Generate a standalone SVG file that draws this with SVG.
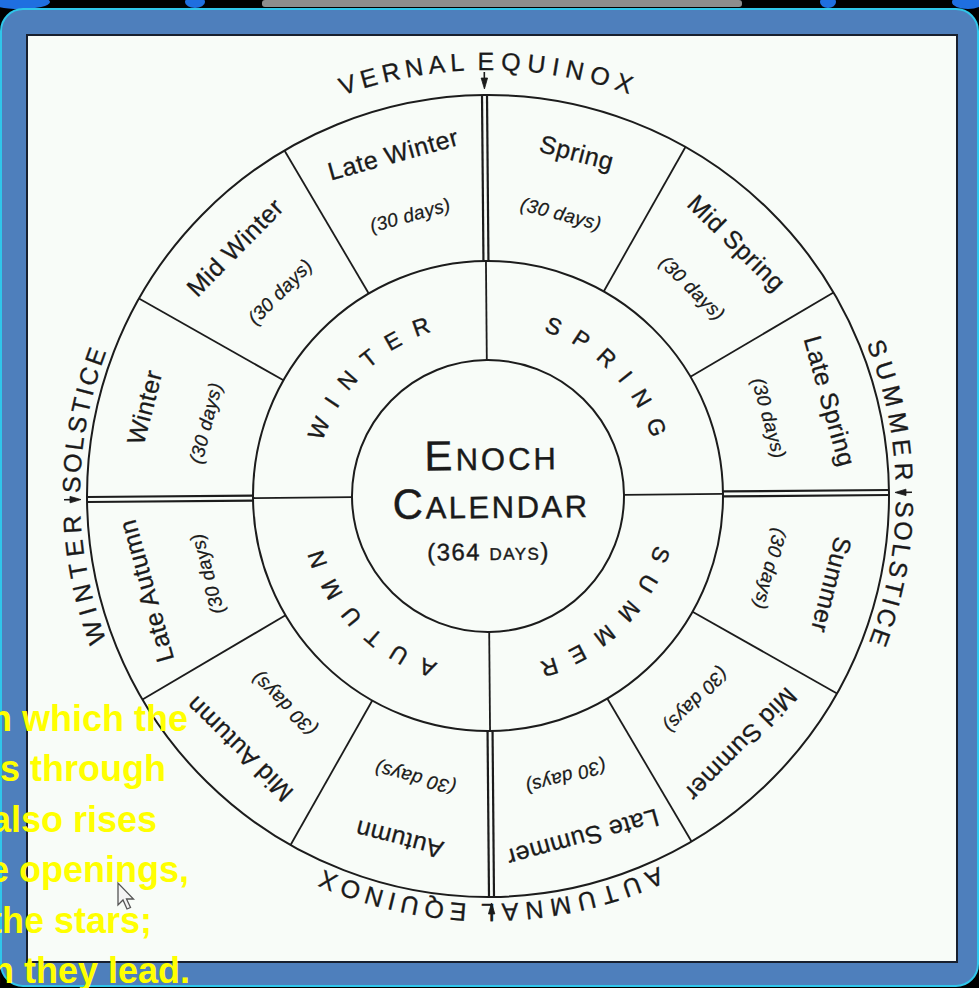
<svg xmlns="http://www.w3.org/2000/svg" xmlns:xlink="http://www.w3.org/1999/xlink" width="979" height="988" viewBox="0 0 979 988">
<defs>
<style>
.ln{stroke:#1c1c1c;fill:none;stroke-width:1.8}
.ax{stroke:#1c1c1c;fill:none;stroke-width:2.2}
.circ{stroke:#1c1c1c;stroke-width:2;fill:none}
.lbl{font-family:"Liberation Sans",Arial,sans-serif;font-size:25px;fill:#1a1a1a;stroke:#1a1a1a;stroke-width:0.3px;text-anchor:middle;letter-spacing:0.6px}
.days{font-family:"Liberation Sans",Arial,sans-serif;font-style:italic;font-size:19px;fill:#1a1a1a;stroke:#1a1a1a;stroke-width:0.25px;text-anchor:middle;letter-spacing:0.4px}
.season{font-family:"Liberation Sans",Arial,sans-serif;font-size:23px;fill:#1a1a1a;stroke:#1a1a1a;stroke-width:0.4px;letter-spacing:14px;text-anchor:middle}
.card{font-family:"Liberation Sans",Arial,sans-serif;font-size:25px;fill:#1a1a1a;stroke:#1a1a1a;stroke-width:0.3px}
.title{font-family:"Liberation Sans",Arial,sans-serif;fill:#1a1a1a;stroke:#1a1a1a;stroke-width:0.4px;text-anchor:middle}
.yel{font-family:"Liberation Sans",Arial,sans-serif;font-weight:bold;font-size:36px;fill:#ffff00;text-anchor:end}
.arr{stroke:#1c1c1c;stroke-width:1.6;fill:#1c1c1c}
</style>
<path id="ringS" d="M 488 670 A 174 174 0 1 1 488 322 A 174 174 0 1 1 488 670"/>
<path id="ringO" d="M 488 904 A 408 408 0 1 1 488 88 A 408 408 0 1 1 488 904"/>
<path id="ringT" d="M 488 922 A 426 426 0 1 1 488 70 A 426 426 0 1 1 488 922"/>
<g id="arrowMark" class="arr">
<line x1="488" y1="72" x2="488" y2="80"/>
<path d="M484.8 78 L491.2 78 L488 89 Z" stroke-width="0.8"/>
</g>
<g id="axisMark">
<line class="ax" x1="485.5" y1="95" x2="485.5" y2="261"/>
<line class="ax" x1="490.5" y1="95" x2="490.5" y2="261"/>
<line class="ln" x1="488" y1="261" x2="488" y2="360" stroke-width="1.5"/>
</g>
</defs>

<!-- screen background -->
<rect x="0" y="0" width="979" height="988" fill="#000"/>
<g id="top-strip">
<ellipse cx="20" cy="2" rx="30" ry="7" fill="#1f6fe0"/>
<ellipse cx="195" cy="2" rx="10" ry="6" fill="#1f6fe0"/>
<rect x="262" y="0" width="480" height="7" rx="3" fill="#8d8d8d"/>
<ellipse cx="828" cy="2" rx="8" ry="6" fill="#1f6fe0"/>
<ellipse cx="968" cy="2" rx="16" ry="7" fill="#1f6fe0"/>
</g>
<rect x="1" y="9" width="977" height="977" rx="22" fill="#4e7fbc" stroke="#2fc6ea" stroke-width="2"/>
<rect x="27" y="35" width="930" height="927" fill="#f8fcf8" stroke="#18202e" stroke-width="2"/>

<g id="wheel" transform="rotate(-0.5 488 496)">
<g id="rings">
<circle class="circ" cx="488" cy="496" r="401"/>
<circle class="circ" cx="488" cy="496" r="235"/>
<circle class="circ" cx="488" cy="496" r="136"/>
</g>
<g id="connectors">
<use xlink:href="#axisMark"/>
<use xlink:href="#axisMark" transform="rotate(90 488 496)"/>
<use xlink:href="#axisMark" transform="rotate(180 488 496)"/>
<use xlink:href="#axisMark" transform="rotate(270 488 496)"/>
<line class="ln" x1="488" y1="95" x2="488" y2="261" transform="rotate(30 488 496)"/>
<line class="ln" x1="488" y1="95" x2="488" y2="261" transform="rotate(60 488 496)"/>
<line class="ln" x1="488" y1="95" x2="488" y2="261" transform="rotate(120 488 496)"/>
<line class="ln" x1="488" y1="95" x2="488" y2="261" transform="rotate(150 488 496)"/>
<line class="ln" x1="488" y1="95" x2="488" y2="261" transform="rotate(210 488 496)"/>
<line class="ln" x1="488" y1="95" x2="488" y2="261" transform="rotate(240 488 496)"/>
<line class="ln" x1="488" y1="95" x2="488" y2="261" transform="rotate(300 488 496)"/>
<line class="ln" x1="488" y1="95" x2="488" y2="261" transform="rotate(330 488 496)"/>
<use xlink:href="#arrowMark"/>
<use xlink:href="#arrowMark" transform="rotate(90 488 496)"/>
<use xlink:href="#arrowMark" transform="rotate(180 488 496)"/>
<use xlink:href="#arrowMark" transform="rotate(270 488 496)"/>
</g>

<g id="vernal-equinox">
<text class="card" letter-spacing="5" text-anchor="end"><textPath xlink:href="#ringT" startOffset="1323.3">VERNAL</textPath></text>
<text class="card" letter-spacing="6.5" text-anchor="start"><textPath xlink:href="#ringT" startOffset="1331.3">EQUINOX</textPath></text>
</g>
<g id="summer-solstice" transform="rotate(90 488 496)">
<text class="card" letter-spacing="6" text-anchor="end"><textPath xlink:href="#ringO" startOffset="1275.8">SUMMER</textPath></text>
<text class="card" letter-spacing="3" text-anchor="start"><textPath xlink:href="#ringO" startOffset="1289.8">SOLSTICE</textPath></text>
</g>
<g id="autumnal-equinox" transform="rotate(180 488 496)">
<text class="card" letter-spacing="6.5" text-anchor="end"><textPath xlink:href="#ringO" startOffset="1298.3">AUTUMNAL</textPath></text>
<text class="card" letter-spacing="5.5" text-anchor="start"><textPath xlink:href="#ringO" startOffset="1305.8">EQUINOX</textPath></text>
</g>
<g id="winter-solstice" transform="rotate(270 488 496)">
<text class="card" letter-spacing="6" text-anchor="end"><textPath xlink:href="#ringO" startOffset="1271.8">WINTER</textPath></text>
<text class="card" letter-spacing="3" text-anchor="start"><textPath xlink:href="#ringO" startOffset="1287.8">SOLSTICE</textPath></text>
</g>

<g id="season-spring" transform="rotate(45 488 496)"><text class="season"><textPath xlink:href="#ringS" startOffset="553.6">SPRING</textPath></text></g>
<g id="season-summer" transform="rotate(135 488 496)"><text class="season"><textPath xlink:href="#ringS" startOffset="553.6">SUMMER</textPath></text></g>
<g id="season-autumn" transform="rotate(225 488 496)"><text class="season"><textPath xlink:href="#ringS" startOffset="553.6">AUTUMN</textPath></text></g>
<g id="season-winter" transform="rotate(315 488 496)"><text class="season"><textPath xlink:href="#ringS" startOffset="553.6">WINTER</textPath></text></g>

<g id="spring" transform="rotate(15 488 496)"><text class="lbl" x="488" y="150">Spring</text><text class="days" x="488" y="211">(30 days)</text></g>
<g id="mid-spring" transform="rotate(45 488 496)"><text class="lbl" x="488" y="150">Mid Spring</text><text class="days" x="488" y="211">(30 days)</text></g>
<g id="late-spring" transform="rotate(75 488 496)"><text class="lbl" x="488" y="150">Late Spring</text><text class="days" x="488" y="211">(30 days)</text></g>
<g id="summer" transform="rotate(105 488 496)"><text class="lbl" x="488" y="150">Summer</text><text class="days" x="488" y="211">(30 days)</text></g>
<g id="mid-summer" transform="rotate(135 488 496)"><text class="lbl" x="488" y="150">Mid Summer</text><text class="days" x="488" y="211">(30 days)</text></g>
<g id="late-summer" transform="rotate(165 488 496)"><text class="lbl" x="488" y="150">Late Summer</text><text class="days" x="488" y="211">(30 days)</text></g>
<g id="autumn" transform="rotate(195 488 496)"><text class="lbl" x="488" y="150">Autumn</text><text class="days" x="488" y="211">(30 days)</text></g>
<g id="mid-autumn" transform="rotate(225 488 496)"><text class="lbl" x="488" y="150">Mid Autumn</text><text class="days" x="488" y="211">(30 days)</text></g>
<g id="late-autumn" transform="rotate(255 488 496)"><text class="lbl" x="488" y="150">Late Autumn</text><text class="days" x="488" y="211">(30 days)</text></g>
<g id="winter" transform="rotate(285 488 496)"><text class="lbl" x="488" y="150">Winter</text><text class="days" x="488" y="211">(30 days)</text></g>
<g id="mid-winter" transform="rotate(315 488 496)"><text class="lbl" x="488" y="150">Mid Winter</text><text class="days" x="488" y="211">(30 days)</text></g>
<g id="late-winter" transform="rotate(345 488 496)"><text class="lbl" x="488" y="150">Late Winter</text><text class="days" x="488" y="211">(30 days)</text></g>

<g id="center-title">
<text class="title" x="492" y="470" letter-spacing="3"><tspan font-size="42">E</tspan><tspan font-size="31">NOCH</tspan></text>
<text class="title" x="491" y="518" letter-spacing="2.5"><tspan font-size="42">C</tspan><tspan font-size="31">ALENDAR</tspan></text>
<text class="title" x="488" y="560" letter-spacing="1.5"><tspan font-size="24">(364 </tspan><tspan font-size="17">DAYS</tspan><tspan font-size="24">)</tspan></text>
</g>
</g>

<g id="overlay-text">
<text class="yel" x="188" y="731">n which the</text>
<text class="yel" x="166" y="781">s through</text>
<text class="yel" x="157" y="832">also rises</text>
<text class="yel" x="189" y="882">e openings,</text>
<text class="yel" x="152" y="933">the stars;</text>
<text class="yel" x="190" y="983">n they lead.</text>
</g>
<g id="cursor" transform="translate(118 883)">
<path d="M0 0 L0 22 L5 17 L9 26 L12.5 24.5 L8.5 16 L15.5 16 Z" fill="#f4f4f4" stroke="#555" stroke-width="1.3"/>
</g>
</svg>
